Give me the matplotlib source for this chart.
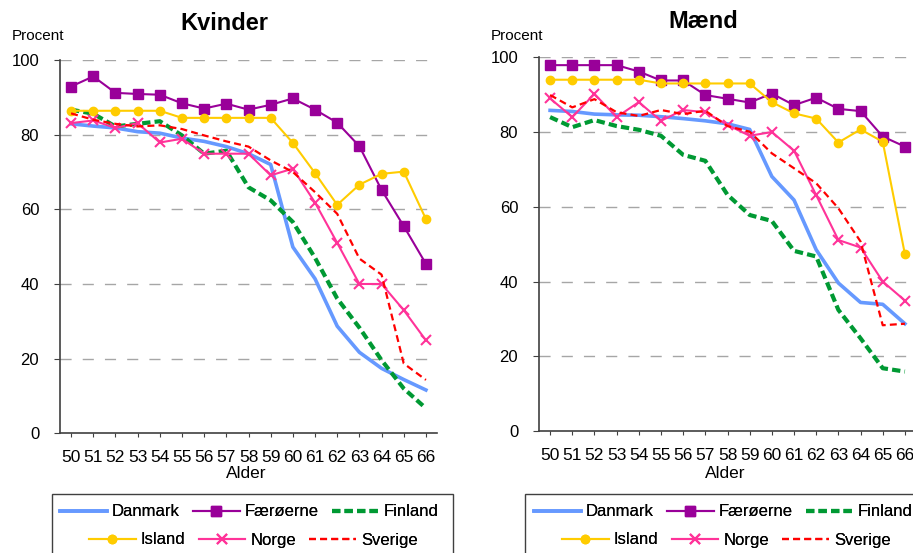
import matplotlib
matplotlib.use("Agg")
import matplotlib.pyplot as plt
import matplotlib.patches as patches

plt.rcParams['font.family'] = ['Liberation Sans', 'DejaVu Sans']
plt.rcParams['lines.scale_dashes'] = False

W, H = 913, 553

alder = list(range(50, 67))

lande = ["Danmark", "Færøerne", "Finland", "Island", "Norge", "Sverige"]

# Kvinder
kv_danmark = [82.9, 82.3, 81.8, 80.8, 80.4, 79.1, 78.2, 76.8, 74.9, 72.0, 49.9, 41.4, 28.7, 21.7, 17.4, 14.4, 11.6]
kv_faeroerne = [92.9, 95.6, 91.2, 90.9, 90.7, 88.4, 87.0, 88.3, 86.7, 88.0, 89.7, 86.7, 83.2, 76.9, 65.2, 55.5, 45.4]
kv_finland = [86.7, 85.6, 82.2, 82.9, 83.6, 79.8, 74.9, 75.7, 65.9, 62.4, 56.6, 47.0, 36.1, 28.3, 19.6, 12.0, 6.7]
kv_island = [86.4, 86.4, 86.4, 86.4, 86.4, 84.5, 84.5, 84.5, 84.5, 84.5, 77.8, 69.7, 61.2, 66.6, 69.5, 70.1, 57.4]
kv_norge = [83.1, 83.8, 81.8, 83.1, 77.9, 78.9, 74.9, 74.9, 74.9, 69.1, 70.9, 61.8, 51.0, 40.0, 40.0, 33.0, 24.9]
kv_sverige = [85.7, 84.0, 82.9, 82.2, 82.5, 81.5, 79.8, 78.2, 76.8, 73.1, 70.0, 64.6, 58.8, 46.8, 42.5, 18.7, 14.3]

# Mænd
m_danmark = [85.8, 85.5, 84.8, 84.6, 84.5, 84.1, 83.6, 83.0, 82.2, 80.7, 68.1, 61.8, 48.5, 39.6, 34.4, 33.9, 28.7]
m_faeroerne = [97.9, 97.9, 97.9, 97.9, 96.2, 93.8, 93.8, 89.9, 88.9, 87.9, 90.3, 87.2, 89.2, 86.2, 85.6, 78.8, 76.1]
m_finland = [84.0, 81.3, 83.2, 81.6, 80.6, 79.0, 73.9, 72.3, 63.2, 57.8, 56.2, 48.2, 46.7, 32.4, 24.8, 16.8, 15.9]
m_island = [94.0, 94.0, 94.0, 94.0, 94.0, 93.0, 93.0, 93.0, 93.0, 93.0, 88.0, 85.0, 83.6, 77.2, 80.7, 77.4, 47.3]
m_norge = [89.0, 84.0, 90.2, 84.0, 88.0, 83.0, 85.9, 85.3, 81.9, 79.0, 80.0, 75.0, 63.1, 51.1, 49.1, 40.0, 34.9]
m_sverige = [89.9, 86.6, 88.8, 85.3, 84.3, 85.9, 84.8, 85.7, 81.6, 80.1, 74.3, 70.3, 66.3, 59.6, 50.7, 28.3, 28.7]

styles = {
    "Danmark": dict(color="#6699FF", lw=2.6),
    "Færøerne": dict(color="#990099", lw=1.5, marker="s", ms=6.5),
    "Finland": dict(color="#009933", lw=3.0, ls=(0, (6, 3))),
    "Island": dict(color="#FFCC00", lw=1.5, marker="o", ms=6),
    "Norge": dict(color="#FF3399", lw=1.5, marker="x", ms=7, mew=1.5),
    "Sverige": dict(color="#FF0000", lw=1.6, ls=(0, (5, 3))),
}


def px(x, y):
    return x / W, 1 - y / H


def tegn_panel(rect, serier):
    ax = fig.add_axes(rect)
    handles = []
    for navn, vals in zip(lande, serier):
        h, = ax.plot(alder, vals, label=navn, **styles[navn])
        handles.append(h)
    ax.set_xlim(49.5, 66.5)
    ax.set_ylim(0, 100)
    ax.set_yticks(range(0, 101, 20))
    ax.set_xticks(alder)
    for y in range(20, 101, 20):
        ax.axhline(y, color="#A6A6A6", lw=1, ls=(0, (8, 8)), zorder=0)
    ax.spines['top'].set_visible(False)
    ax.spines['right'].set_visible(False)
    for s in ('left', 'bottom'):
        ax.spines[s].set_color("#404040")
        ax.spines[s].set_linewidth(1.2)
    ax.tick_params(axis='y', length=4, pad=11, labelsize=12, color="#404040")
    ax.tick_params(axis='x', length=3, pad=9, labelsize=12.5, color="#404040")
    return ax, handles


def tegn_legend(handles, x_row1, x_row2, box_left, box_right):
    r1 = fig.legend(handles[:3], lande[:3], loc='center left',
                    bbox_to_anchor=px(x_row1, 512), ncol=3, frameon=False,
                    borderpad=0, borderaxespad=0, handlelength=2.8,
                    handletextpad=0.3, columnspacing=0.8, fontsize=12)
    fig.add_artist(r1)
    r2 = fig.legend(handles[3:], lande[3:], loc='center left',
                    bbox_to_anchor=px(x_row2, 540), ncol=3, frameon=False,
                    borderpad=0, borderaxespad=0, handlelength=2.8,
                    handletextpad=0.3, columnspacing=0.8, fontsize=12)
    fig.add_artist(r2)
    x0, y0 = px(box_left, 493.5)
    box = patches.Rectangle((x0, -0.05), (box_right - box_left) / W, y0 + 0.05,
                            transform=fig.transFigure, fill=False,
                            edgecolor="#404040", lw=1.0)
    fig.add_artist(box)


fig = plt.figure(figsize=(W / 100, H / 100), dpi=100)

ax1, h1 = tegn_panel([60 / W, 119.7 / H, 377 / W, 373.3 / H],
                     [kv_danmark, kv_faeroerne, kv_finland, kv_island, kv_norge, kv_sverige])
ax2, h2 = tegn_panel([539 / W, 122 / H, 377 / W, 373.7 / H],
                     [m_danmark, m_faeroerne, m_finland, m_island, m_norge, m_sverige])

fig.text(*px(224, 23), "Kvinder", ha='center', va='center', fontsize=17, fontweight='bold')
fig.text(*px(703, 21), "Mænd", ha='center', va='center', fontsize=17, fontweight='bold')
fig.text(*px(12, 36), "Procent", ha='left', va='center', fontsize=11)
fig.text(*px(491, 36), "Procent", ha='left', va='center', fontsize=11)
fig.text(*px(246, 473), "Alder", ha='center', va='center', fontsize=12.5)
fig.text(*px(725, 473), "Alder", ha='center', va='center', fontsize=12.5)

tegn_legend(h1, 60, 89, 51.7, 453)
tegn_legend(h2, 534, 562, 525, 930)

fig.savefig("out.png", dpi=100)
